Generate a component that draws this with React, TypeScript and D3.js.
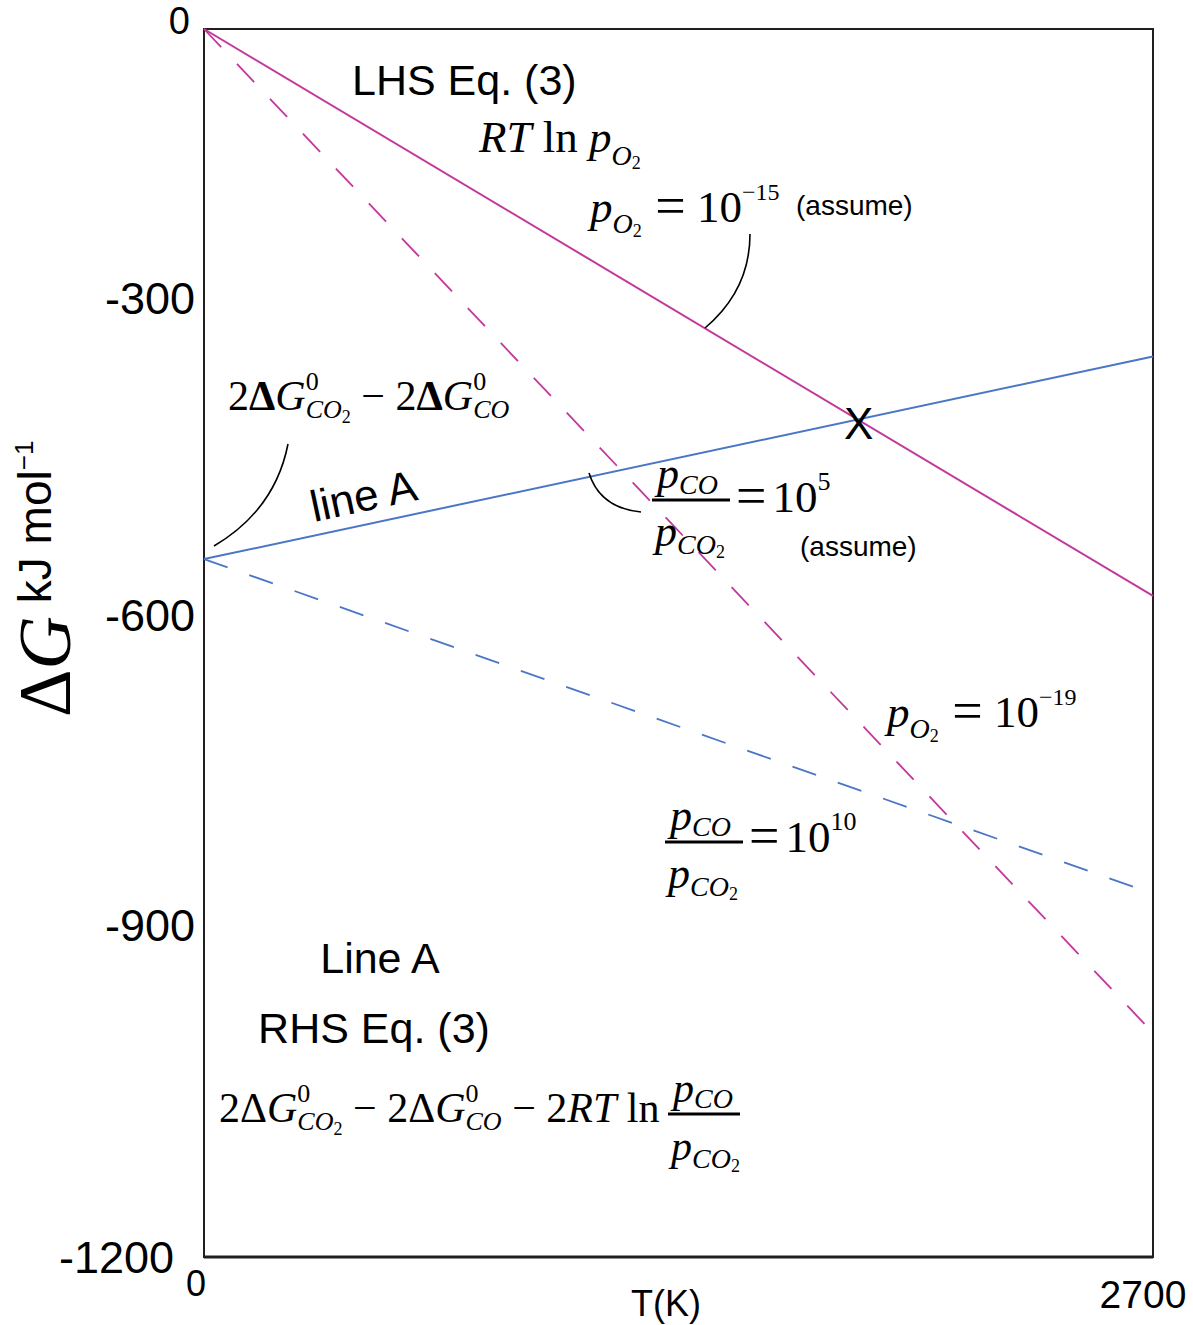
import React from 'react';
import * as d3 from 'd3';

// ---- data ----
const T_DOMAIN = [0, 2700];
const G_DOMAIN = [0, -1200];
const yTickValues = [0, -300, -600, -900, -1200];
const xTickValues = [0, 2700];

type Pt = { T: number; G: number };
const lhsSolid: Pt[] = [{ T: 0, G: 0 }, { T: 2700, G: -554 }];      // RT ln pO2, pO2 = 1e-15
const lhsDashed: Pt[] = [{ T: 0, G: 0 }, { T: 2700, G: -981 }];     // pO2 = 1e-19
const lineA: Pt[] = [{ T: 0, G: -518 }, { T: 2700, G: -320 }];      // pCO/pCO2 = 1e5
const lineADashed: Pt[] = [{ T: 0, G: -518 }, { T: 2700, G: -845 }]; // pCO/pCO2 = 1e10

const MAGENTA = '#c2399b';
const BLUE = '#4a76c6';
const SERIF = "'Liberation Serif', 'Times New Roman', serif";
const SANS = "'Liberation Sans', Arial, Helvetica, sans-serif";

type Seg = { t: string; i?: boolean; b?: boolean; s?: number; off?: number; dx?: number };

function MathText({ x, y, segs, size = 42 }: { x: number; y: number; segs: Seg[]; size?: number }) {
  let prev = 0;
  return (
    <text x={x} y={y} fontFamily={SERIF} fontSize={size} fill="#000" style={{ whiteSpace: 'pre' }}>
      {segs.map((sg, k) => {
        const off = sg.off ?? 0;
        const dy = off - prev;
        prev = off;
        return (
          <tspan
            key={k}
            dy={dy !== 0 ? dy : undefined}
            dx={sg.dx}
            fontStyle={sg.i ? 'italic' : 'normal'}
            fontWeight={sg.b ? 'bold' : 'normal'}
            fontSize={sg.s ?? size}
          >
            {sg.t}
          </tspan>
        );
      })}
    </text>
  );
}

const S = 28;
const S2 = 26;
const SS = 18;

const pCO: Seg[] = [{ t: 'p', i: true }, { t: 'CO', i: true, s: S, off: 6 }];
const pCO2: Seg[] = [{ t: 'p', i: true }, { t: 'CO', i: true, s: S, off: 8 }, { t: '2', s: SS, off: 12 }];

function Fraction({ x, y, w, num, den, size = 44 }: { x: number; y: number; w: number; num: Seg[]; den: Seg[]; size?: number }) {
  return (
    <g>
      <MathText x={x + 5} y={y - 12} segs={num} size={size} />
      <line x1={x} x2={x + w} y1={y} y2={y} stroke="#000" strokeWidth={3} />
      <MathText x={x + 3} y={y + 46} segs={den} size={size} />
    </g>
  );
}

export default function App() {
  const W = 1193, H = 1325;
  const left = 204, right = 1153, top = 29, bottom = 1257;
  const x = d3.scaleLinear().domain(T_DOMAIN).range([left, right]);
  const y = d3.scaleLinear().domain(G_DOMAIN).range([top, bottom]);
  // tick label placement as drawn in the original figure
  const yLabel = d3.scaleLinear().domain(yTickValues).range([20, 298, 615, 925, 1257]);
  const line = d3.line<Pt>().x(d => x(d.T)).y(d => y(d.G));

  // intersection of LHS solid and line A
  const s1 = (lhsSolid[1].G - lhsSolid[0].G) / (lhsSolid[1].T - lhsSolid[0].T);
  const s2 = (lineA[1].G - lineA[0].G) / (lineA[1].T - lineA[0].T);
  const Tx = (lineA[0].G - lhsSolid[0].G) / (s1 - s2);
  const Gx = lhsSolid[0].G + s1 * Tx;

  const angleA = (Math.atan2(y(lineA[1].G) - y(lineA[0].G), x(lineA[1].T) - x(lineA[0].T)) * 180) / Math.PI;

  const EQ = 54;

  return (
    <svg width={W} height={H} style={{ position: 'absolute', left: 0, top: 0, background: '#fff' }}>
      <rect x={0} y={0} width={W} height={H} fill="#fff" />
      {/* frame */}
      <rect x={left} y={top} width={right - left} height={bottom - top} fill="none" stroke="#231f20" strokeWidth={2} />
      <line x1={left} x2={right} y1={bottom} y2={bottom} stroke="#231f20" strokeWidth={3} />

      {/* lines */}
      <path d={line(lhsDashed) || ''} fill="none" stroke={MAGENTA} strokeWidth={1.8} strokeDasharray="25 23" />
      <path d={line(lineADashed) || ''} fill="none" stroke={BLUE} strokeWidth={1.8} strokeDasharray="25 23" />
      <path d={line(lhsSolid) || ''} fill="none" stroke={MAGENTA} strokeWidth={2} />
      <path d={line(lineA) || ''} fill="none" stroke={BLUE} strokeWidth={2} />

      {/* X marker */}
      <text x={x(Tx) + 1} y={y(Gx) + 19} fontFamily={SANS} fontSize={44} textAnchor="middle">X</text>

      {/* y tick labels */}
      {yTickValues.map(v => (
        <text
          key={v}
          x={v === 0 ? 190 : v === -1200 ? 174 : 195}
          y={yLabel(v)}
          dy="0.36em"
          textAnchor="end"
          fontFamily={SANS}
          fontSize={v === 0 ? 38 : 45}
        >
          {String(v)}
        </text>
      ))}
      {/* x tick labels */}
      {xTickValues.map(v => (
        <text
          key={v}
          x={v === 0 ? x(v) - 8 : x(v) - 10}
          y={v === 0 ? 1296 : 1308}
          textAnchor="middle"
          fontFamily={SANS}
          fontSize={v === 0 ? 36 : 39}
        >
          {String(v)}
        </text>
      ))}
      <text x={666} y={1316} textAnchor="middle" fontFamily={SANS} fontSize={36}>T(K)</text>

      {/* y axis title */}
      <g transform="translate(70,717) rotate(-90)">
        <text x={0} y={0} style={{ whiteSpace: 'pre' }}>
          <tspan fontFamily={SERIF} fontSize={74}>Δ</tspan>
          <tspan fontFamily={SERIF} fontSize={74} fontStyle="italic">G</tspan>
          <tspan fontFamily={SANS} fontSize={46} dy={-19}>{' kJ mol'}</tspan>
          <tspan fontFamily={SANS} fontSize={26} dy={-18}>−1</tspan>
        </text>
      </g>

      {/* annotations */}
      <text x={352} y={95} fontFamily={SANS} fontSize={43}>LHS Eq. (3)</text>
      <MathText x={479} y={152} size={45} segs={[
        { t: 'RT', i: true }, { t: ' ln ' }, { t: 'p', i: true },
        { t: 'O', i: true, s: S, off: 13 }, { t: '2', s: SS, off: 17 },
      ]} />
      <MathText x={590} y={222} size={45} segs={[
        { t: 'p', i: true }, { t: 'O', i: true, s: S, off: 11 }, { t: '2', s: SS, off: 15 },
        { t: ' =', s: EQ, off: 2 }, { t: ' 10', off: 0 }, { t: '−15', s: 24, off: -22 },
      ]} />
      <text x={796} y={215} fontFamily={SANS} fontSize={28}>(assume)</text>
      <path d="M750,234 Q750,290 705,328" fill="none" stroke="#000" strokeWidth={1.6} />

      <MathText x={228} y={410} segs={[
        { t: '2' }, { t: 'Δ', b: true }, { t: 'G', i: true },
        { t: '0', s: S2, off: -20 }, { t: 'CO', i: true, s: S2, off: 8, dx: -13 }, { t: '2', s: SS, off: 13 },
        { t: ' − 2', off: 0 }, { t: 'Δ', b: true }, { t: 'G', i: true },
        { t: '0', s: S2, off: -20 }, { t: 'CO', i: true, s: S2, off: 8, dx: -13 },
      ]} />
      <path d="M288,444 Q275,510 214,546" fill="none" stroke="#000" strokeWidth={1.6} />

      <text
        x={314} y={522} fontFamily={SANS} fontSize={44}
        transform={`rotate(${angleA} 314 522)`}
      >line A</text>

      <Fraction x={652} y={500} w={78} num={pCO} den={pCO2} />
      <MathText x={736} y={512} size={45} segs={[{ t: '=', s: EQ, off: 2 }, { t: '10', off: 0, dx: 6 }, { t: '5', s: S2, off: -22 }]} />
      <text x={800} y={556} fontFamily={SANS} fontSize={28}>(assume)</text>
      <path d="M589,473 Q600,508 641,512" fill="none" stroke="#000" strokeWidth={1.6} />

      <MathText x={887} y={727} size={45} segs={[
        { t: 'p', i: true }, { t: 'O', i: true, s: S, off: 11 }, { t: '2', s: SS, off: 15 },
        { t: ' =', s: EQ, off: 2 }, { t: ' 10', off: 0 }, { t: '−19', s: 24, off: -22 },
      ]} />

      <Fraction x={665} y={842} w={78} num={pCO} den={pCO2} />
      <MathText x={749} y={852} size={45} segs={[{ t: '=', s: EQ, off: 2 }, { t: '10', off: 0, dx: 6 }, { t: '10', s: S2, off: -22 }]} />

      <text x={380} y={973} textAnchor="middle" fontFamily={SANS} fontSize={43}>Line A</text>
      <text x={374} y={1043} textAnchor="middle" fontFamily={SANS} fontSize={43}>RHS Eq. (3)</text>

      <MathText x={219} y={1122} segs={[
        { t: '2Δ' }, { t: 'G', i: true },
        { t: '0', s: S2, off: -20 }, { t: 'CO', i: true, s: S2, off: 8, dx: -13 }, { t: '2', s: SS, off: 13 },
        { t: ' − 2Δ', off: 0 }, { t: 'G', i: true },
        { t: '0', s: S2, off: -20 }, { t: 'CO', i: true, s: S2, off: 8, dx: -13 },
        { t: ' − 2', off: 0 }, { t: 'RT', i: true }, { t: ' ln' },
      ]} />
      <Fraction x={668} y={1114} w={72} num={pCO} den={pCO2} size={42} />
    </svg>
  );
}
